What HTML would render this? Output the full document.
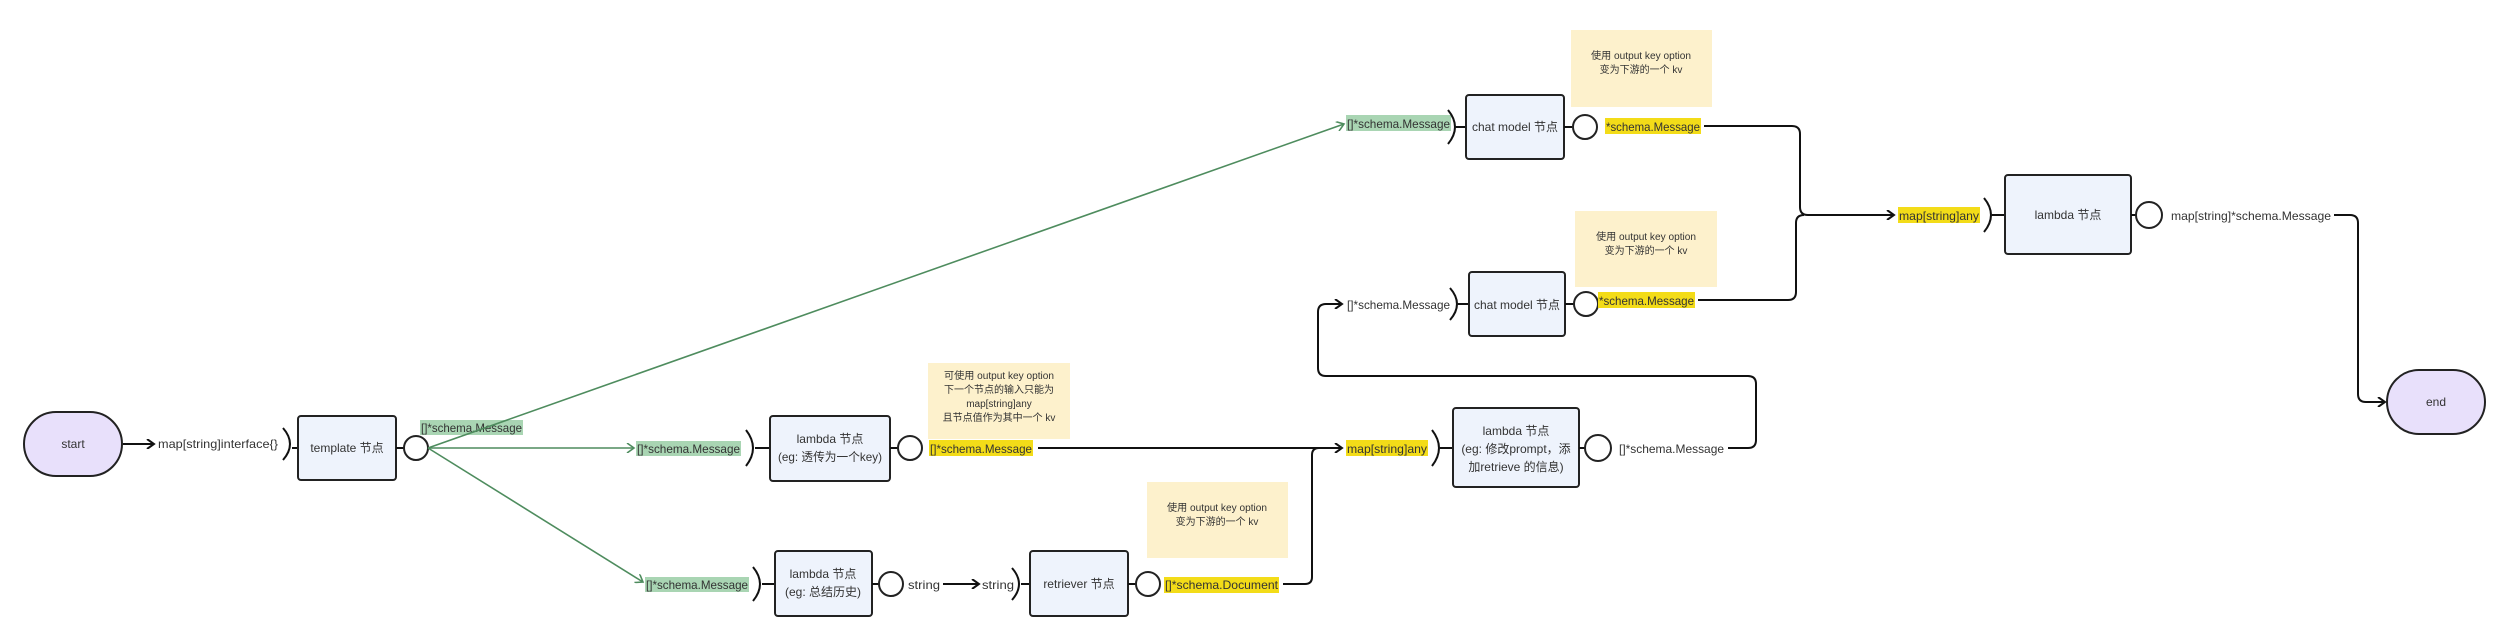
<!DOCTYPE html>
<html><head><meta charset="utf-8"><style>
html,body{margin:0;padding:0;background:#fff;}
svg{display:block;}
text{font-family:"Liberation Sans","Noto Sans CJK SC",sans-serif;font-size:12px;fill:#333;}
.box{fill:#eef3fc;stroke:#222;stroke-width:2;}
.se{fill:#e8e0fb;stroke:#222;stroke-width:2;}
.c{fill:#fff;stroke:#222;stroke-width:2;}
.ln{fill:none;stroke:#111;stroke-width:2;}
.gl{fill:none;stroke:#4e8c5e;stroke-width:1.6;}
.note{fill:#fdf1cc;}
.y{fill:#f3dc18;}
.g{fill:#a9d5b3;}
.nt{font-size:10px;}
</style></head><body>
<svg width="2503" height="637" viewBox="0 0 2503 637" xmlns="http://www.w3.org/2000/svg">
<defs>
<marker id="a" markerWidth="10" markerHeight="10" refX="8" refY="5" orient="auto" markerUnits="userSpaceOnUse"><path d="M1,0 L8,5 L1,10" fill="none" stroke="#111" stroke-width="2"/></marker>
<marker id="ag" markerWidth="10" markerHeight="10" refX="8" refY="5" orient="auto" markerUnits="userSpaceOnUse"><path d="M1,0 L8,5 L1,10" fill="none" stroke="#4e8c5e" stroke-width="1.6"/></marker>
</defs>

<!-- notes -->
<rect class="note" x="1571" y="30" width="141" height="77"/>
<text class="nt" x="1641" y="59" text-anchor="middle" textLength="100" lengthAdjust="spacingAndGlyphs">使用 output key option</text>
<text class="nt" x="1641" y="73" text-anchor="middle">变为下游的一个 kv</text>
<rect class="note" x="1575" y="211" width="142" height="76"/>
<text class="nt" x="1646" y="240" text-anchor="middle" textLength="100" lengthAdjust="spacingAndGlyphs">使用 output key option</text>
<text class="nt" x="1646" y="254" text-anchor="middle">变为下游的一个 kv</text>
<rect class="note" x="928" y="363" width="142" height="76"/>
<text class="nt" x="999" y="379" text-anchor="middle" textLength="110" lengthAdjust="spacingAndGlyphs">可使用 output key option</text>
<text class="nt" x="999" y="393" text-anchor="middle">下一个节点的输入只能为</text>
<text class="nt" x="999" y="407" text-anchor="middle">map[string]any</text>
<text class="nt" x="999" y="421" text-anchor="middle">且节点值作为其中一个 kv</text>
<rect class="note" x="1147" y="482" width="141" height="76"/>
<text class="nt" x="1217" y="511" text-anchor="middle" textLength="100" lengthAdjust="spacingAndGlyphs">使用 output key option</text>
<text class="nt" x="1217" y="525" text-anchor="middle">变为下游的一个 kv</text>

<!-- start -->
<rect class="se" x="24" y="412" width="98" height="64" rx="32"/>
<text x="73" y="448" text-anchor="middle">start</text>
<line class="ln" x1="123" y1="444" x2="154" y2="444" marker-end="url(#a)"/>
<text x="158" y="448" textLength="120" lengthAdjust="spacingAndGlyphs">map[string]interface{}</text>
<path class="ln" d="M283,428 Q297,444 283,460 M292,448 L298,448"/>
<rect class="box" x="298" y="416" width="98" height="64" rx="3"/>
<text x="347" y="452" text-anchor="middle">template 节点</text>
<line class="ln" x1="396" y1="448" x2="404" y2="448"/>
<circle class="c" cx="416" cy="448" r="12"/>
<rect class="g" x="420" y="420" width="103" height="15"/>
<text x="421" y="432" textLength="101" lengthAdjust="spacingAndGlyphs">[]*schema.Message</text>

<!-- green lines -->
<line class="gl" x1="428" y1="448" x2="1344" y2="124" marker-end="url(#ag)"/>
<line class="gl" x1="428" y1="448" x2="634" y2="448" marker-end="url(#ag)"/>
<line class="gl" x1="428" y1="448" x2="643" y2="582" marker-end="url(#ag)"/>

<!-- middle lambda -->
<rect class="g" x="636" y="441" width="105" height="15"/>
<text x="637" y="453" textLength="103" lengthAdjust="spacingAndGlyphs">[]*schema.Message</text>
<path class="ln" d="M746,430 Q760,448 746,466 M755,448 L770,448"/>
<rect class="box" x="770" y="416" width="120" height="65" rx="3"/>
<text x="830" y="443" text-anchor="middle">lambda 节点</text>
<text x="830" y="461" text-anchor="middle" textLength="104" lengthAdjust="spacingAndGlyphs">(eg: 透传为一个key)</text>
<line class="ln" x1="890" y1="448" x2="898" y2="448"/>
<circle class="c" cx="910" cy="448" r="12"/>
<rect class="y" x="929" y="440" width="104" height="16"/>
<text x="930" y="453" textLength="102" lengthAdjust="spacingAndGlyphs">[]*schema.Message</text>
<line class="ln" x1="1038" y1="448" x2="1342" y2="448" marker-end="url(#a)"/>

<!-- bottom lambda -->
<rect class="g" x="645" y="577" width="104" height="15"/>
<text x="646" y="589" textLength="102" lengthAdjust="spacingAndGlyphs">[]*schema.Message</text>
<path class="ln" d="M753,567 Q767,584 753,601 M762,584 L775,584"/>
<rect class="box" x="775" y="551" width="97" height="65" rx="3"/>
<text x="823" y="578" text-anchor="middle">lambda 节点</text>
<text x="823" y="596" text-anchor="middle">(eg: 总结历史)</text>
<line class="ln" x1="872" y1="584" x2="879" y2="584"/>
<circle class="c" cx="891" cy="584" r="12"/>
<text x="908" y="589" textLength="32" lengthAdjust="spacingAndGlyphs">string</text>
<line class="ln" x1="943" y1="584" x2="979" y2="584" marker-end="url(#a)"/>
<text x="982" y="589" textLength="32" lengthAdjust="spacingAndGlyphs">string</text>
<path class="ln" d="M1012,568 Q1026,584 1012,600 M1021,584 L1030,584"/>
<rect class="box" x="1030" y="551" width="98" height="65" rx="3"/>
<text x="1079" y="588" text-anchor="middle">retriever 节点</text>
<line class="ln" x1="1128" y1="584" x2="1136" y2="584"/>
<circle class="c" cx="1148" cy="584" r="12"/>
<rect class="y" x="1164" y="577" width="115" height="16"/>
<text x="1165" y="589" textLength="113" lengthAdjust="spacingAndGlyphs">[]*schema.Document</text>
<path class="ln" d="M1283,584 L1305,584 Q1312,584 1312,577 L1312,455 Q1312,448 1319,448"/>

<!-- lambda modify prompt -->
<rect class="y" x="1346" y="440" width="82" height="16"/>
<text x="1347" y="453" textLength="80" lengthAdjust="spacingAndGlyphs">map[string]any</text>
<path class="ln" d="M1432,430 Q1446,448 1432,466 M1440,448 L1453,448"/>
<rect class="box" x="1453" y="408" width="126" height="79" rx="3"/>
<text x="1516" y="435" text-anchor="middle">lambda 节点</text>
<text x="1516" y="453" text-anchor="middle">(eg: 修改prompt，添</text>
<text x="1516" y="471" text-anchor="middle">加retrieve 的信息)</text>
<line class="ln" x1="1579" y1="448" x2="1586" y2="448"/>
<circle class="c" cx="1598" cy="448" r="13"/>
<text x="1619" y="453" textLength="105" lengthAdjust="spacingAndGlyphs">[]*schema.Message</text>
<path class="ln" d="M1728,448 L1748,448 Q1756,448 1756,440 L1756,384 Q1756,376 1748,376 L1326,376 Q1318,376 1318,368 L1318,312 Q1318,304 1326,304 L1342,304" marker-end="url(#a)"/>

<!-- top chat model -->
<rect class="g" x="1346" y="115" width="105" height="16"/>
<text x="1347" y="128" textLength="103" lengthAdjust="spacingAndGlyphs">[]*schema.Message</text>
<path class="ln" d="M1448,110 Q1462,127 1448,144 M1456,127 L1466,127"/>
<rect class="box" x="1466" y="95" width="98" height="64" rx="3"/>
<text x="1515" y="131" text-anchor="middle" textLength="86" lengthAdjust="spacingAndGlyphs">chat model 节点</text>
<line class="ln" x1="1564" y1="127" x2="1572" y2="127"/>
<circle class="c" cx="1585" cy="127" r="12"/>
<rect class="y" x="1605" y="118" width="96" height="16"/>
<text x="1606" y="131" textLength="94" lengthAdjust="spacingAndGlyphs">*schema.Message</text>
<path class="ln" d="M1704,126 L1792,126 Q1800,126 1800,134 L1800,207 Q1800,215 1808,215 L1894,215" marker-end="url(#a)"/>

<!-- bottom chat model -->
<text x="1347" y="309" textLength="103" lengthAdjust="spacingAndGlyphs">[]*schema.Message</text>
<path class="ln" d="M1450,288 Q1464,304 1450,320 M1458,304 L1469,304"/>
<rect class="box" x="1469" y="272" width="96" height="64" rx="3"/>
<text x="1517" y="309" text-anchor="middle" textLength="86" lengthAdjust="spacingAndGlyphs">chat model 节点</text>
<line class="ln" x1="1565" y1="304" x2="1574" y2="304"/>
<circle class="c" cx="1586" cy="304" r="12"/>
<rect class="y" x="1598" y="292" width="97" height="16"/>
<text x="1599" y="305" textLength="95" lengthAdjust="spacingAndGlyphs">*schema.Message</text>
<path class="ln" d="M1698,300 L1788,300 Q1796,300 1796,292 L1796,223 Q1796,215 1804,215"/>

<!-- final lambda -->
<rect class="y" x="1898" y="207" width="82" height="16"/>
<text x="1899" y="220" textLength="80" lengthAdjust="spacingAndGlyphs">map[string]any</text>
<path class="ln" d="M1984,198 Q1998,215 1984,232 M1992,215 L2005,215"/>
<rect class="box" x="2005" y="175" width="126" height="79" rx="3"/>
<text x="2068" y="219" text-anchor="middle">lambda 节点</text>
<line class="ln" x1="2131" y1="215" x2="2137" y2="215"/>
<circle class="c" cx="2149" cy="215" r="13"/>
<text x="2171" y="220" textLength="160" lengthAdjust="spacingAndGlyphs">map[string]*schema.Message</text>
<path class="ln" d="M2334,215 L2350,215 Q2358,215 2358,223 L2358,394 Q2358,402 2366,402 L2385,402" marker-end="url(#a)"/>

<rect class="se" x="2387" y="370" width="98" height="64" rx="32"/>
<text x="2436" y="406" text-anchor="middle">end</text>
</svg>
</body></html>
